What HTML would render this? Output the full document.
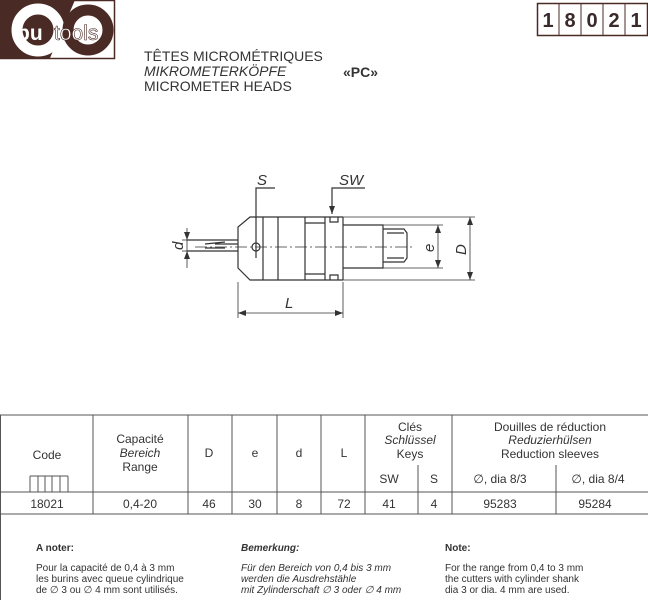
<!DOCTYPE html>
<html><head><meta charset="utf-8"><style>
body{margin:0;width:648px;height:600px;background:#fff;overflow:hidden;font-family:"Liberation Sans",sans-serif;color:#333;position:relative}
.t{position:absolute;white-space:nowrap}
</style></head><body>
<svg width="648" height="600" style="position:absolute;left:0;top:0" font-family="Liberation Sans, sans-serif">
<!-- logo -->
<rect x="0.5" y="0.5" width="114" height="58" fill="#fff" stroke="#4a2a24" stroke-width="1.5"/>
<polygon points="0,0 75,0 50,58 0,58" fill="#4a2a24"/>
<circle cx="38" cy="30" r="21" fill="none" stroke="#fff" stroke-width="11"/>
<circle cx="88" cy="30" r="20" fill="#fff" stroke="#4a2a24" stroke-width="11"/>
<text x="17" y="40" font-size="21" fill="#fff" font-weight="bold">bu</text>
<text x="54" y="40" font-size="21" fill="#fff" stroke="#4a2a24" stroke-width="0.6">tools</text>
<!-- number box -->
<rect x="537.5" y="3.5" width="110" height="32" fill="none" stroke="#4a2a24" stroke-width="1.5"/>
<g stroke="#4a2a24" stroke-width="1"><line x1="559" y1="3" x2="559" y2="36"/><line x1="581" y1="3" x2="581" y2="36"/><line x1="603" y1="3" x2="603" y2="36"/><line x1="625" y1="3" x2="625" y2="36"/></g>
<g font-size="20" font-weight="bold" fill="#3a2a2a" text-anchor="middle"><text x="548" y="27">1</text><text x="570" y="27">8</text><text x="592" y="27">0</text><text x="614" y="27">2</text><text x="636" y="27">1</text></g>

<!-- drawing -->
<g stroke="#333" stroke-width="1.2" fill="none">
<line x1="187" y1="240" x2="238" y2="240"/><line x1="187" y1="251" x2="238" y2="251"/>
<path d="M205 244 L225 242 M205 248 L225 248 M215 244 L238 244"/>
<path d="M238 247 L238 227 L250 217 L343 217 M238 247 L238 268 L250 280 L343 280"/>
<line x1="263" y1="217" x2="263" y2="280"/><line x1="278" y1="217" x2="278" y2="280"/>
<line x1="305" y1="217" x2="305" y2="280"/><line x1="325" y1="217" x2="325" y2="280"/>
<line x1="343" y1="217" x2="343" y2="280"/>
<line x1="305" y1="223" x2="325" y2="223"/><line x1="305" y1="274" x2="325" y2="274"/>
<path d="M330 217 L330 222 L338 222 L338 217 M330 280 L330 275 L338 275 L338 280"/>
<path d="M343 225 L383 225 L383 268 L343 268"/>
<path d="M383 229 L404 229 L407 233 L407 258 L404 262 L383 262"/>
<line x1="387" y1="233" x2="404" y2="233"/><line x1="387" y1="258" x2="404" y2="258"/>
<circle cx="256" cy="247" r="4"/>
<line x1="256" y1="247" x2="256" y2="258"/>
<polyline points="256,247 256,188 275,188"/>
<polyline points="332,214 332,188 365,188"/>
</g>
<line x1="195" y1="247" x2="415" y2="247" stroke="#333" stroke-width="0.8" stroke-dasharray="12,3,2,3"/>
<g stroke="#333" stroke-width="0.8" fill="none">
<line x1="343" y1="217" x2="475" y2="217"/><line x1="343" y1="280" x2="475" y2="280"/>
<line x1="383" y1="225" x2="443" y2="225"/><line x1="383" y1="268" x2="443" y2="268"/>
<line x1="470" y1="217" x2="470" y2="280"/><line x1="438" y1="225" x2="438" y2="268"/>
<line x1="238" y1="282" x2="238" y2="318"/><line x1="343" y1="282" x2="343" y2="318"/>
<line x1="238" y1="313" x2="343" y2="313"/>
<line x1="187" y1="228" x2="187" y2="268"/>
<line x1="182" y1="240" x2="190" y2="240"/><line x1="182" y1="251" x2="190" y2="251"/>
</g>
<g fill="#333">
<polygon points="470,217 467,225 473,225"/><polygon points="470,280 467,272 473,272"/>
<polygon points="438,225 435,233 441,233"/><polygon points="438,268 435,260 441,260"/>
<polygon points="238,313 246,310 246,316"/><polygon points="343,313 335,310 335,316"/>
<polygon points="187,240 184,232 190,232"/><polygon points="187,251 184,259 190,259"/>
<polygon points="332,214 329,206 335,206"/>
</g>
<g font-size="15" font-style="italic" fill="#333">
<text x="257" y="185">S</text><text x="339" y="185">SW</text>
<text x="285" y="308">L</text>
<text transform="translate(434,252) rotate(-90)">e</text>
<text transform="translate(466,255) rotate(-90)">D</text>
<text transform="translate(183,250) rotate(-90)">d</text>
</g>

<!-- table -->
<g stroke="#555" stroke-width="1" fill="none">
<line x1="0" y1="415" x2="648" y2="415"/>
<line x1="0" y1="492" x2="648" y2="492"/>
<line x1="0" y1="514" x2="648" y2="514"/>
<line x1="0.5" y1="415" x2="0.5" y2="600"/>
<line x1="93" y1="415" x2="93" y2="514"/><line x1="188" y1="415" x2="188" y2="514"/>
<line x1="232" y1="415" x2="232" y2="514"/><line x1="277" y1="415" x2="277" y2="514"/>
<line x1="321" y1="415" x2="321" y2="514"/><line x1="365" y1="415" x2="365" y2="514"/>
<line x1="418" y1="465" x2="418" y2="514"/><line x1="452" y1="415" x2="452" y2="514"/>
<line x1="556" y1="465" x2="556" y2="514"/>
<line x1="30" y1="476" x2="68" y2="476"/><line x1="30" y1="476" x2="30" y2="492"/><line x1="38" y1="476" x2="38" y2="492"/><line x1="45" y1="476" x2="45" y2="492"/><line x1="52" y1="476" x2="52" y2="492"/><line x1="60" y1="476" x2="60" y2="492"/><line x1="68" y1="476" x2="68" y2="492"/>
</g>
<g font-size="12" fill="#333" text-anchor="middle">
<text x="47" y="459">Code</text>
<text x="140" y="443">Capacité</text><text x="140" y="457" font-style="italic">Bereich</text><text x="140" y="471">Range</text>
<text x="209" y="457">D</text><text x="255" y="457">e</text><text x="299" y="457">d</text><text x="344" y="457">L</text>
<text x="410" y="431">Clés</text><text x="410" y="444" font-style="italic">Schlüssel</text><text x="410" y="458">Keys</text>
<text x="550" y="431">Douilles de réduction</text><text x="550" y="444" font-style="italic">Reduzierhülsen</text><text x="550" y="458">Reduction sleeves</text>
<text x="389" y="483">SW</text><text x="434" y="483">S</text>
<text x="500" y="483">∅, dia 8/3</text><text x="598" y="483">∅, dia 8/4</text>
<text x="47" y="508">18021</text><text x="140" y="508">0,4-20</text><text x="209" y="508">46</text><text x="255" y="508">30</text><text x="299" y="508">8</text><text x="344" y="508">72</text><text x="389" y="508">41</text><text x="434" y="508">4</text><text x="500" y="508">95283</text><text x="595" y="508">95284</text>
</g>
</svg>
<div class="t" style="left:144px;top:49px;font-size:14px;line-height:15px">TÊTES MICROMÉTRIQUES<br><i>MIKROMETERKÖPFE</i><br>MICROMETER HEADS</div>
<div class="t" style="left:343px;top:64px;font-size:14px;font-weight:bold">«PC»</div>
<div class="t" style="left:36px;top:543px;font-size:10px;font-weight:bold">A noter:</div>
<div class="t" style="left:36px;top:563px;font-size:10px;line-height:11px">Pour la capacité de 0,4 à 3 mm<br>les burins avec queue cylindrique<br>de ∅ 3 ou ∅ 4 mm sont utilisés.</div>
<div class="t" style="left:241px;top:543px;font-size:10px;font-weight:bold;font-style:italic">Bemerkung:</div>
<div class="t" style="left:241px;top:563px;font-size:10px;line-height:11px;font-style:italic">Für den Bereich von 0,4 bis 3 mm<br>werden die Ausdrehstähle<br>mit Zylinderschaft ∅ 3 oder ∅ 4 mm</div>
<div class="t" style="left:445px;top:543px;font-size:10px;font-weight:bold">Note:</div>
<div class="t" style="left:445px;top:563px;font-size:10px;line-height:11px">For the range from 0,4 to 3 mm<br>the cutters with cylinder shank<br>dia 3 or dia. 4 mm are used.</div>
</body></html>
